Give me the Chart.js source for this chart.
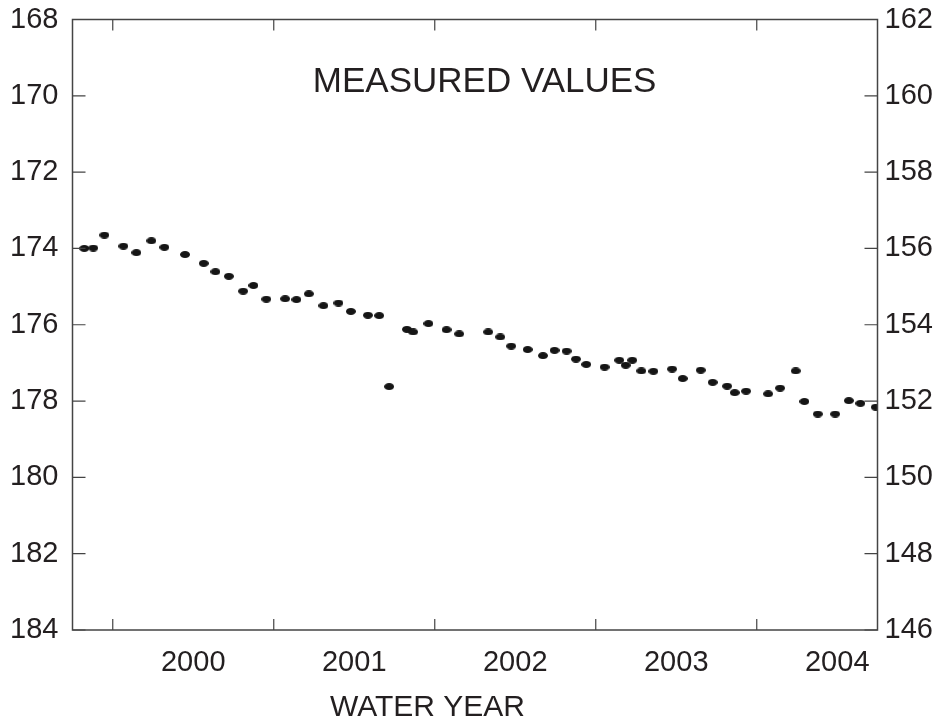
<!DOCTYPE html>
<html>
<head>
<meta charset="utf-8">
<script src="https://cdn.jsdelivr.net/npm/chart.js@4"></script>
<style>
  html, body { margin: 0; padding: 0; background: #fff; }
  #wrap { width: 943px; height: 721px; position: relative; }
</style>
</head>
<body>
<div id="wrap"><canvas id="c"></canvas></div>
<script>
// ---- data ----
const sampleDates = [
  1999.573, 1999.629, 1999.698, 1999.816, 1999.897, 1999.990, 2000.071, 2000.199, 2000.315, 2000.388,
  2000.471, 2000.560, 2000.624, 2000.704, 2000.821, 2000.891, 2000.968, 2001.059, 2001.152, 2001.229,
  2001.335, 2001.405, 2001.467, 2001.577, 2001.616, 2001.711, 2001.823, 2001.902, 2002.082, 2002.157,
  2002.225, 2002.327, 2002.422, 2002.494, 2002.569, 2002.627, 2002.691, 2002.805, 2002.896, 2002.936,
  2002.977, 2003.033, 2003.108, 2003.224, 2003.290, 2003.402, 2003.476, 2003.566, 2003.613, 2003.684,
  2003.821, 2003.895, 2003.992, 2004.046, 2004.129, 2004.237, 2004.322, 2004.394, 2004.489
];
const measuredValues = [
  174.00, 173.99, 173.65, 173.94, 174.11, 173.80, 173.97, 174.16, 174.39, 174.61,
  174.73, 175.12, 174.97, 175.33, 175.32, 175.34, 175.19, 175.50, 175.43, 175.65,
  175.75, 175.76, 177.62, 176.12, 176.19, 175.97, 176.13, 176.24, 176.19, 176.32,
  176.56, 176.65, 176.81, 176.67, 176.69, 176.90, 177.04, 177.11, 176.93, 177.06,
  176.93, 177.21, 177.22, 177.16, 177.41, 177.19, 177.51, 177.61, 177.78, 177.74,
  177.81, 177.66, 177.21, 178.01, 178.34, 178.34, 177.99, 178.06, 178.16
];
const waterYearLabels = ['2000', '2001', '2002', '2003', '2004'];
const waterYearStarts = [1999.75, 2000.75, 2001.75, 2002.75, 2003.75];
const xRange = [1999.5, 2004.5];
const leftRange = [168, 184];
const rightRange = [146, 162];
const chartTitle = 'MEASURED VALUES';
const axisTitle = 'WATER YEAR';

// ---- style ----
const FONT = '"Liberation Sans", Arial, sans-serif';
const TXT = '#231f20';
const AXIS = '#444';

function ellipseDot(w, h) {
  const cv = document.createElement('canvas');
  cv.width = w; cv.height = h;
  const g = cv.getContext('2d');
  g.fillStyle = '#151515';
  g.beginPath();
  g.ellipse(w / 2, h / 2, w / 2, h / 2, 0, 0, Math.PI * 2);
  g.fill();
  return cv;
}
const dot = ellipseDot(10, 7);

const framePlugin = {
  id: 'frame',
  afterDraw(chart) {
    const { ctx, chartArea: a, scales } = chart;
    ctx.save();
    ctx.strokeStyle = AXIS;
    ctx.lineWidth = 1.5;
    ctx.strokeRect(a.left, a.top, a.right - a.left, a.bottom - a.top);
    ctx.lineWidth = 1.2;
    ctx.beginPath();
    const tl = 11;
    waterYearStarts.forEach(v => {
      const px = scales.x.getPixelForValue(v);
      ctx.moveTo(px, a.top); ctx.lineTo(px, a.top + tl);
      ctx.moveTo(px, a.bottom); ctx.lineTo(px, a.bottom - tl);
    });
    for (let v = leftRange[0]; v <= leftRange[1]; v += 2) {
      const py = scales.y.getPixelForValue(v);
      ctx.moveTo(a.left, py); ctx.lineTo(a.left + 13, py);
    }
    for (let v = rightRange[0]; v <= rightRange[1]; v += 2) {
      const py = scales.y2.getPixelForValue(v);
      ctx.moveTo(a.right, py); ctx.lineTo(a.right - 13, py);
    }
    ctx.stroke();
    ctx.fillStyle = TXT;
    ctx.textAlign = 'center';
    ctx.textBaseline = 'middle';
    ctx.font = '35px ' + FONT;
    ctx.fillText(chartTitle, a.left + 0.512 * (a.right - a.left), a.top + 63);
    ctx.font = '30px ' + FONT;
    ctx.fillText(axisTitle, a.left + 0.441 * (a.right - a.left), a.bottom + 78);
    ctx.restore();
  }
};

function fixVertical(width) {
  return s => { s.width = width; s.paddingTop = 0; s.paddingBottom = 0; };
}

new Chart(document.getElementById('c'), {
  type: 'scatter',
  data: {
    datasets: [{
      data: sampleDates.map((d, i) => ({ x: d, y: measuredValues[i] })),
      pointStyle: dot,
      pointRadius: 4,
      pointHoverRadius: 4,
      yAxisID: 'y'
    }]
  },
  options: {
    responsive: true,
    maintainAspectRatio: false,
    animation: false,
    events: [],
    layout: { padding: { top: 19.5, bottom: 0, left: 0, right: 0 } },
    plugins: { legend: { display: false }, tooltip: { enabled: false } },
    scales: {
      x: {
        type: 'linear',
        min: xRange[0], max: xRange[1],
        afterBuildTicks: s => { s.ticks = waterYearStarts.map(v => ({ value: v + 0.5 })); },
        afterFit: s => { s.height = 91; },
        grid: { display: false, drawTicks: false },
        border: { display: false },
        ticks: {
          padding: 16,
          maxRotation: 0,
          autoSkip: false,
          color: TXT,
          font: { family: FONT, size: 29 },
          callback: (v, i) => waterYearLabels[i]
        }
      },
      y: {
        type: 'linear',
        position: 'left',
        reverse: true,
        min: leftRange[0], max: leftRange[1],
        afterFit: fixVertical(72.5),
        grid: { display: false, drawTicks: false },
        border: { display: false },
        ticks: { stepSize: 2, padding: 14, color: TXT, font: { family: FONT, size: 29 } }
      },
      y2: {
        type: 'linear',
        position: 'right',
        min: rightRange[0], max: rightRange[1],
        afterFit: fixVertical(65.5),
        grid: { display: false, drawTicks: false },
        border: { display: false },
        ticks: { stepSize: 2, padding: 7, color: TXT, font: { family: FONT, size: 29 } }
      }
    }
  },
  plugins: [framePlugin]
});
</script>
</body>
</html>
